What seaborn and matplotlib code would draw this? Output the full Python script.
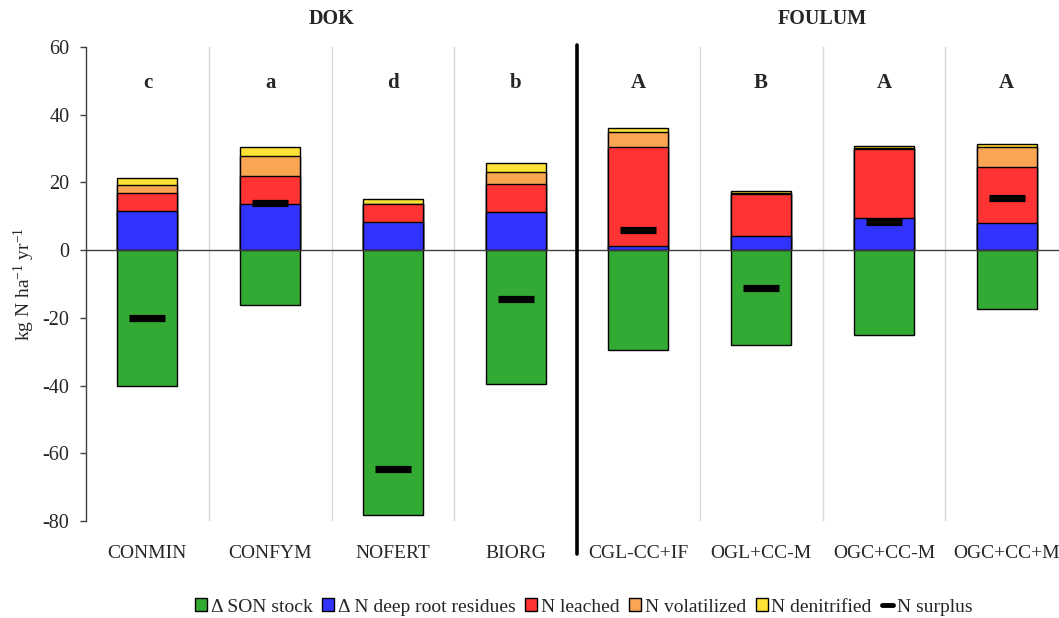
import numpy as np
import pandas as pd
import matplotlib
matplotlib.use("Agg")
import matplotlib.pyplot as plt
from matplotlib.patches import Patch
from matplotlib.lines import Line2D
import seaborn as sns

# Nitrogen balance components per treatment (kg N ha-1 yr-1)
categories = ["CONMIN", "CONFYM", "NOFERT", "BIORG",
              "CGL-CC+IF", "OGL+CC-M", "OGC+CC-M", "OGC+CC+M"]
son_stock = [-40.2, -16.2, -78.2, -39.6, -29.6, -28.0, -25.0, -17.4]
deep_root = [11.7, 13.6, 8.4, 11.4, 1.1, 4.3, 9.6, 8.1]
leached = [5.1, 8.4, 5.1, 8.0, 29.5, 12.4, 20.3, 16.4]
volatilized = [2.5, 5.7, 0.0, 3.8, 4.3, 0.3, 0.3, 5.9]
denitrified = [2.1, 2.7, 1.6, 2.4, 1.3, 0.4, 0.5, 1.0]
surplus = [-20.1, 14.0, -64.5, -14.3, 5.9, -11.1, 8.2, 15.5]
letters = ["c", "a", "d", "b", "A", "B", "A", "A"]
sites = ["DOK", "FOULUM"]

labels = ["\u0394 SON stock", "\u0394 N deep root residues", "N leached",
          "N volatilized", "N denitrified"]
colors = ["#33AA33", "#3333FF", "#FF3333", "#F9A552", "#FFE236"]

sns.set_style("white")
plt.rcParams["font.family"] = ["Liberation Serif", "DejaVu Serif"]
plt.rcParams["mathtext.fontset"] = "custom"
plt.rcParams["mathtext.rm"] = "Liberation Serif"
plt.rcParams["mathtext.it"] = "Liberation Serif:italic"
plt.rcParams["mathtext.bf"] = "Liberation Serif:bold"
plt.rcParams["axes.unicode_minus"] = False

df = pd.DataFrame({
    "category": categories,
    "son": son_stock,
    "root": deep_root,
    "leached": leached,
    "vol": volatilized,
    "den": denitrified,
    "surplus": surplus,
})
# cumulative tops of the positive stack
df["c_root"] = df["root"]
df["c_leached"] = df["c_root"] + df["leached"]
df["c_vol"] = df["c_leached"] + df["vol"]
df["c_den"] = df["c_vol"] + df["den"]

fig = plt.figure(figsize=(10.59, 6.18), dpi=100)
ax = fig.add_axes([86 / 1059, 1 - 521 / 618, 982 / 1059, 474 / 618])

bar_w = 0.49
# draw stacked layers from the tallest cumulative value down
layers = [("c_den", colors[4]), ("c_vol", colors[3]), ("c_leached", colors[2]),
          ("c_root", colors[1]), ("son", colors[0])]
for col, colr in layers:
    sns.barplot(data=df, x="category", y=col, order=categories, color=colr,
                width=bar_w, edgecolor="black", linewidth=1.0, saturation=1,
                errorbar=None, ax=ax, zorder=3)

# N surplus markers
ax.plot(np.arange(len(categories)), df["surplus"], linestyle="none",
        marker="_", markersize=26, markeredgewidth=5.2, color="black", zorder=5)

ax.set_xlim(-0.5, len(categories) - 0.5)
ax.set_ylim(-80, 60)
ax.set_yticks(np.arange(-80, 61, 20))
ax.set_xlabel("")
ax.set_ylabel("kg N ha$^{\\mathrm{-1}}$ yr$^{\\mathrm{-1}}$", fontsize=14,
              labelpad=4)

# zero line and category separators
ax.axhline(0, color="#404040", linewidth=1.0, zorder=4)
for xb in [0.5, 1.5, 2.5, 4.5, 5.5, 6.5]:
    ax.axvline(xb, color="#d9d9d9", linewidth=1.0, zorder=1)
ax.axvline(3.5, ymin=-0.07, ymax=1.005, color="black", linewidth=2.6,
           clip_on=False, zorder=6)

for side in ["top", "right", "bottom"]:
    ax.spines[side].set_visible(False)
ax.spines["left"].set_color("#404040")
ax.spines["left"].set_linewidth(1.0)
ax.tick_params(axis="y", which="both", left=True, length=4, width=1.0,
               color="#404040", labelsize=14.5, pad=8)
ax.tick_params(axis="x", bottom=False, labelsize=14, pad=14)

# significance letters
for i, lt in enumerate(letters):
    ax.text(i, 49.5, lt, ha="center", va="center", fontsize=15,
            fontweight="bold")

# site headers
ax.text(1.5, 1.06, sites[0], transform=ax.get_xaxis_transform(),
        ha="center", va="center", fontsize=14.5, fontweight="bold")
ax.text(5.5, 1.06, sites[1], transform=ax.get_xaxis_transform(),
        ha="center", va="center", fontsize=14.5, fontweight="bold")

handles = [Patch(facecolor=c, edgecolor="black", linewidth=1.0) for c in colors]
handles.append(Line2D([0], [0], color="black", linewidth=3.5))
fig.legend(handles, labels + ["N surplus"], loc="center",
           bbox_to_anchor=(584 / 1059, 1 - 607 / 618), ncol=6, frameon=False,
           fontsize=14, handlelength=0.6, handleheight=0.6, handletextpad=0.2,
           columnspacing=0.5)

fig.savefig("out.png", dpi=100)
